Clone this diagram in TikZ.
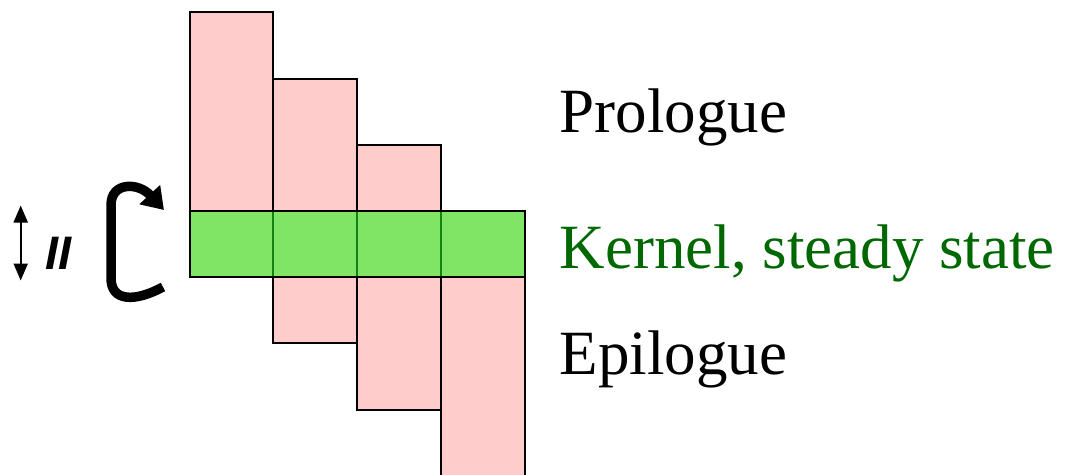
\documentclass[tikz,border=0pt]{standalone}
\usepackage{fontspec}
\setmainfont{Liberation Serif}
\newfontfamily\sansf{Liberation Sans}
\usetikzlibrary{arrows.meta}
\definecolor{pinkfill}{RGB}{255,204,204}
\definecolor{kgreen}{RGB}{128,228,100}
\definecolor{kline}{RGB}{20,130,20}
\definecolor{ktext}{RGB}{0,104,0}
\tikzset{
  stage/.style={fill=pinkfill, draw=black, line width=2pt},
  label/.style={anchor=base west, inner sep=0pt, font=\fontsize{63}{70}\selectfont},
}
\begin{document}
\begin{tikzpicture}[x=1pt,y=-1pt]
\useasboundingbox (0,0) rectangle (1068,474);
\clip (0,0) rectangle (1068,474);
\fill[white] (0,0) rectangle (1068,474);
% columns
\draw[stage] (190,12) rectangle (273,277);
\draw[stage] (273,78.5) rectangle (357,343);
\draw[stage] (357,145) rectangle (441,409.5);
\draw[stage] (441,211) rectangle (525,480);
% kernel
\fill[kgreen] (190,211) rectangle (525,277);
\draw[kline, line width=2pt] (273,211) -- (273,277) (357,211) -- (357,277) (441,211) -- (441,277);
\draw[line width=2.5pt] (190,211) rectangle (525,277);
% labels
\node[label] (pro) at (559.5,132.7) {Prologue};
\node[label, text=ktext] (ker) at (559.5,268.3) {Kernel, steady state};
\node[label] (epi) at (559.5,374) {Epilogue};
% II
\coordinate (dt) at (20.7,205.5);
\coordinate (db) at (20.7,280.5);
\draw[line width=2pt, {Triangle[length=17pt,width=14pt]}-{Triangle[length=17pt,width=14pt]}] (dt) -- (db);
\node[anchor=base west, inner sep=0pt, font=\sansf\bfseries\itshape\fontsize{47}{50}\selectfont] (ii) at (45,269) {II};
% loop arrow
\coordinate (ls) at (163,287);
\coordinate (le) at (164,210);
\draw[line width=9.5pt, -{Triangle[length=21pt,width=27pt]}] (ls) .. controls (135,302) and (111,302) .. (111,278) -- (111,205) .. controls (111,182) and (138,182) .. (le);
\end{tikzpicture}
\end{document}
